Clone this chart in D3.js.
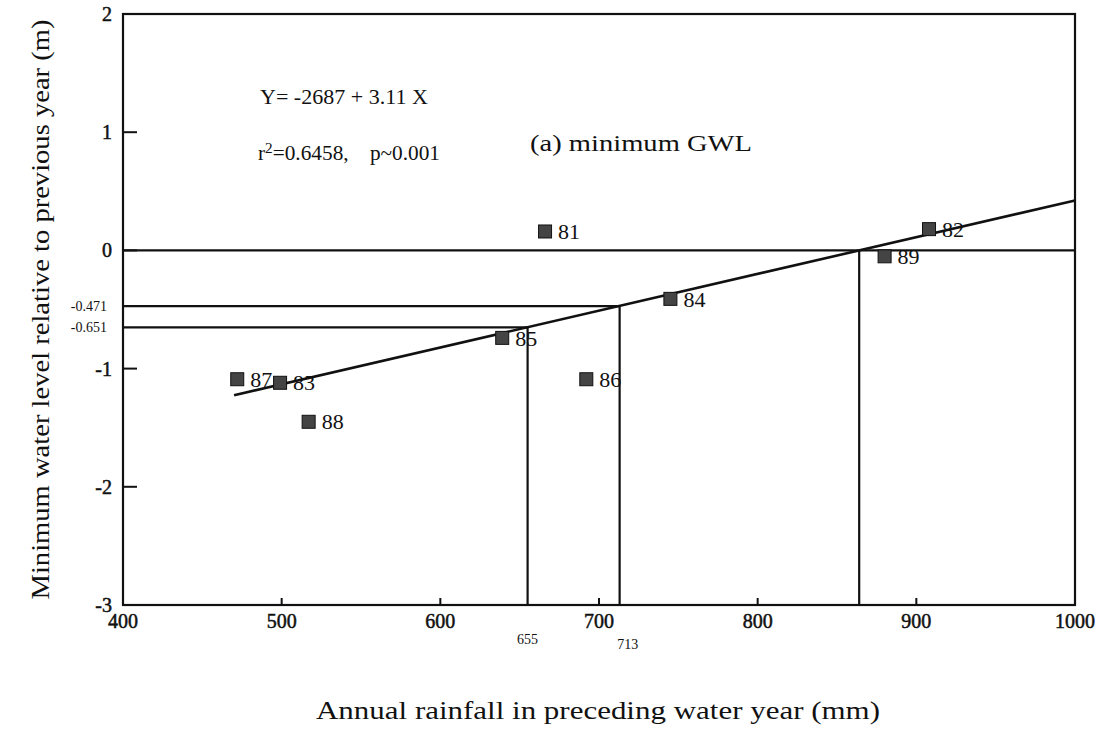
<!DOCTYPE html>
<html>
<head>
<meta charset="utf-8">
<script src="https://cdn.jsdelivr.net/npm/d3@7"></script>
<style>
  html, body { margin: 0; padding: 0; background: #fff; }
  svg text { font-family: "Liberation Serif", "DejaVu Serif", serif; fill: #111; }
</style>
</head>
<body>
<svg id="chart" width="1100" height="729"></svg>
<script>
// Water years and their (rainfall, water-level change) pairs
const years    = ["81", "82", "83", "84", "85", "86", "87", "88", "89"];
const rainfall = [666, 908, 499, 745, 639, 692, 472, 517, 880];
const levelChg = [0.16, 0.18, -1.12, -0.41, -0.74, -1.09, -1.09, -1.45, -0.05];

// Regression Y(mm) = -2687 + 3.11 X  -> metres
const intercept = -2687, slope = 3.11;
const fitRange = [470, 1000];

// Reference values
const refX = [655, 713];
const refY = [-0.651, -0.471];
const zeroX = -intercept / slope;   // rainfall where change is zero

const xTicks = [400, 500, 600, 700, 800, 900, 1000];
const yTicks = [2, 1, 0, -1, -2, -3];

const svg = d3.select("#chart");
const margin = { left: 123, right: 25, top: 14, bottom: 124 };
const W = 1100, H = 729;

const x = d3.scaleLinear().domain([400, 1000]).range([margin.left, W - margin.right]);
const y = d3.scaleLinear().domain([-3, 2]).range([H - margin.bottom, margin.top]);
const fit = v => (intercept + slope * v) / 1000;

const g = svg.append("g");
const ink = "#111";

// Frame
g.append("rect")
  .attr("x", x(400)).attr("y", y(2))
  .attr("width", x(1000) - x(400)).attr("height", y(-3) - y(2))
  .attr("fill", "none").attr("stroke", ink).attr("stroke-width", 2.2);

// Inward ticks
g.selectAll(".ytick").data(yTicks.filter(v => v > -3 && v < 2)).enter().append("line")
  .attr("x1", x(400)).attr("x2", x(400) + 14)
  .attr("y1", d => y(d)).attr("y2", d => y(d))
  .attr("stroke", ink).attr("stroke-width", 2);
g.selectAll(".xtick").data(xTicks.filter(v => v > 400 && v < 1000)).enter().append("line")
  .attr("x1", d => x(d)).attr("x2", d => x(d))
  .attr("y1", y(-3)).attr("y2", y(-3) - 7)
  .attr("stroke", ink).attr("stroke-width", 2);

// Tick labels
g.selectAll(".ylab").data(yTicks).enter().append("text")
  .attr("x", x(400) - 11).attr("y", d => y(d))
  .attr("dy", "0.35em").attr("text-anchor", "end")
  .attr("font-size", 20).attr("stroke", ink).attr("stroke-width", 0.5)
  .text(d => d);
g.selectAll(".xlab").data(xTicks).enter().append("text")
  .attr("x", d => x(d)).attr("y", y(-3) + 23)
  .attr("text-anchor", "middle")
  .attr("font-size", 20).attr("stroke", ink).attr("stroke-width", 0.5)
  .text(d => d);

// Small labels for the reference values
g.selectAll(".refylab").data(refY).enter().append("text")
  .attr("x", 107).attr("y", d => y(d))
  .attr("dy", "0.35em").attr("text-anchor", "end")
  .attr("font-size", 14)
  .text(d => d.toFixed(3));
g.append("text").attr("x", x(refX[0])).attr("y", y(-3) + 39)
  .attr("text-anchor", "middle").attr("font-size", 14).text(refX[0]);
g.append("text").attr("x", x(refX[1]) + 8).attr("y", y(-3) + 44)
  .attr("text-anchor", "middle").attr("font-size", 14).text(refX[1]);

// Zero line across the plot
g.append("line")
  .attr("x1", x(400)).attr("x2", x(1000))
  .attr("y1", y(0)).attr("y2", y(0))
  .attr("stroke", ink).attr("stroke-width", 2.2);

// Horizontal and vertical guides to the fitted line
refX.forEach((rx, i) => {
  g.append("line")
    .attr("x1", x(400)).attr("x2", x(rx))
    .attr("y1", y(refY[i])).attr("y2", y(refY[i]))
    .attr("stroke", ink).attr("stroke-width", 2.2);
  g.append("line")
    .attr("x1", x(rx)).attr("x2", x(rx))
    .attr("y1", y(refY[i])).attr("y2", y(-3))
    .attr("stroke", ink).attr("stroke-width", 2.2);
});
g.append("line")
  .attr("x1", x(zeroX)).attr("x2", x(zeroX))
  .attr("y1", y(0)).attr("y2", y(-3))
  .attr("stroke", ink).attr("stroke-width", 2.2);

// Regression line
g.append("path")
  .datum(fitRange)
  .attr("d", d3.line().x(d => x(d)).y(d => y(fit(d))))
  .attr("fill", "none").attr("stroke", ink).attr("stroke-width", 2.6);

// Points
const pts = years.map((yr, i) => ({ yr, rx: rainfall[i], dy: levelChg[i] }));
g.selectAll(".pt").data(pts).enter().append("rect")
  .attr("x", d => x(d.rx) - 6.5).attr("y", d => y(d.dy) - 6.5)
  .attr("width", 13).attr("height", 13)
  .attr("fill", "#444").attr("stroke", ink).attr("stroke-width", 1);
g.selectAll(".ptlab").data(pts).enter().append("text")
  .attr("x", d => x(d.rx) + 13).attr("y", d => y(d.dy))
  .attr("dy", "0.35em").attr("font-size", 22)
  .text(d => d.yr);

// Annotations
g.append("text").attr("x", 260).attr("y", 104).attr("font-size", 22)
  .attr("textLength", 168).attr("lengthAdjust", "spacingAndGlyphs")
  .text("Y= -2687 + 3.11 X");
const r2 = g.append("text").attr("x", 258).attr("y", 160).attr("font-size", 21)
  .attr("textLength", 182).attr("lengthAdjust", "spacingAndGlyphs");
r2.append("tspan").text("r");
r2.append("tspan").attr("dy", -7).attr("font-size", 15).text("2");
r2.append("tspan").attr("dy", 7).text("=0.6458,\u2003p~0.001");
g.append("text").attr("x", 530).attr("y", 151).attr("font-size", 24)
  .attr("textLength", 222).attr("lengthAdjust", "spacingAndGlyphs")
  .text("(a) minimum GWL");

// Axis titles
g.append("text")
  .attr("x", 598).attr("y", 719)
  .attr("text-anchor", "middle").attr("font-size", 25)
  .attr("textLength", 564).attr("lengthAdjust", "spacingAndGlyphs")
  .text("Annual rainfall in preceding water year (mm)");
g.append("text")
  .attr("transform", `translate(49, ${(y(2) + y(-3)) / 2}) rotate(-90)`)
  .attr("text-anchor", "middle").attr("font-size", 25)
  .attr("textLength", 580).attr("lengthAdjust", "spacingAndGlyphs")
  .text("Minimum water level relative to previous year (m)");
</script>
</body>
</html>
